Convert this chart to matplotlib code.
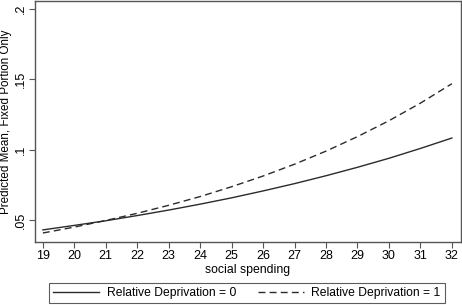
import matplotlib
matplotlib.use("Agg")
import matplotlib.pyplot as plt

plt.rcParams['font.family'] = ['Liberation Sans', 'DejaVu Sans']

spending = [19, 20, 21, 22, 23, 24, 25, 26, 27, 28, 29, 30, 31, 32]
rd0 = [0.0430, 0.0462, 0.0495, 0.0532, 0.0571, 0.0613, 0.0658, 0.0707,
       0.0759, 0.0815, 0.0875, 0.0939, 0.1009, 0.1083]
rd1 = [0.0408, 0.0450, 0.0497, 0.0548, 0.0605, 0.0667, 0.0737, 0.0813,
       0.0897, 0.0990, 0.1093, 0.1206, 0.1331, 0.1469]
yticks = [0.05, 0.1, 0.15, 0.2]
yticklabels = ['.05', '.1', '.15', '.2']
labels = ['Relative Deprivation = 0', 'Relative Deprivation = 1']

fig = plt.figure(figsize=(4.62, 3.05), dpi=100)
ax = fig.add_axes([35/462, 63/305, 426/462, 241/305])
lc = '#2b2b2b'
ax.plot(spending, rd0, color=lc, lw=1.0, ls='-', label=labels[0])
ax.plot(spending, rd1, color=lc, lw=1.0, ls=(0, (5, 3)), label=labels[1])

ax.set_xlim(18.75, 32.29)
ax.set_ylim(0.0344, 0.2057)
ax.set_xticks(spending)
ax.set_yticks(yticks)
ax.set_yticklabels(yticklabels, rotation=90, va='center')
for s in ax.spines.values():
    s.set_color('#555555')
    s.set_linewidth(1.0)
ax.tick_params(direction='out', length=4, width=0.8, color='#555555',
               labelsize=9, pad=2)
ax.set_xlabel('social spending', fontsize=8.8, labelpad=1)
ax.set_ylabel('Predicted Mean, Fixed Portion Only', fontsize=8.4, labelpad=2)

leg = fig.legend(loc='center', bbox_to_anchor=(247/462, 1 - 293/305), ncol=2,
                 fontsize=8.7, frameon=True, fancybox=False, handlelength=3.8,
                 columnspacing=1.75, borderpad=0.35, handletextpad=0.65,
                 borderaxespad=0)
leg.get_frame().set_edgecolor('#333333')
leg.get_frame().set_linewidth(0.8)

fig.savefig('out.png', dpi=100)
